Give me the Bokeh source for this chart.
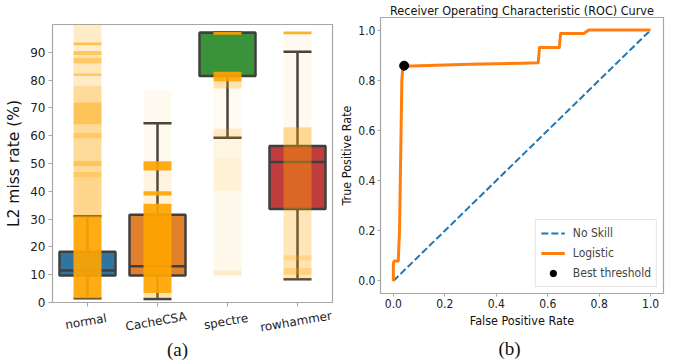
from bokeh.plotting import figure
from bokeh.models import (ColumnDataSource, FactorRange, Range1d, Title,
                          FixedTicker)
from bokeh.core.properties import value
from bokeh.layouts import row, column
from bokeh.transform import dodge
from bokeh.embed import file_html
from bokeh.resources import INLINE

# ---------------- data: panel (a) ----------------
categories = ["normal", "CacheCSA", "spectre", "rowhammer"]
q1 = [9.7, 9.7, 81.5, 33.6]
median = [11.5, 13.0, 97.0, 50.5]
q3 = [18.3, 31.6, 97.0, 56.3]
whisker_low = [1.5, 1.3, 59.3, 8.4]
whisker_high = [31.0, 64.5, 97.0, 90.2]
box_colors = ["#3274a1", "#e1812c", "#3a923a", "#c03d3e"]
y_ticks = [0, 10, 20, 30, 40, 50, 60, 70, 80, 90]

# strip-plot point density, read as horizontal bands per category
strip_cat = (["normal"] * 19 + ["CacheCSA"] * 7 + ["spectre"] * 9 +
             ["rowhammer"] * 9)
strip_lo = [1.5, 31.0, 45.0, 47.0, 49.0, 51.0, 59.0, 61.0, 64.0, 72.0,
            78.0, 81.5, 82.5, 86.0, 88.0, 89.0, 90.5, 92.5, 93.5,
            1.5, 3.4, 35.5, 38.5, 40.0, 47.5, 50.8,
            9.7, 11.5, 40.0, 52.0, 59.0, 62.5, 77.0, 79.5, 96.3,
            8.3, 10.0, 12.5, 15.0, 17.0, 33.5, 56.5, 63.0, 96.5]
strip_hi = [31.0, 45.0, 47.0, 49.0, 51.0, 59.0, 61.0, 64.0, 72.0, 78.0,
            81.5, 82.5, 86.0, 88.0, 89.0, 90.5, 92.5, 93.5, 100.0,
            3.4, 35.5, 38.5, 40.0, 47.5, 50.8, 76.5,
            11.5, 40.0, 52.0, 59.0, 62.5, 77.0, 79.5, 83.0, 97.3,
            10.0, 12.5, 15.0, 17.0, 33.5, 56.5, 63.0, 96.5, 97.5]
strip_density = [0.92, 0.45, 0.60, 0.40, 0.65, 0.40, 0.60, 0.40, 0.65, 0.40,
                 0.22, 0.60, 0.27, 0.60, 0.30, 0.62, 0.20, 0.70, 0.22,
                 0.30, 0.92, 0.15, 0.92, 0.12, 0.92, 0.06,
                 0.22, 0.07, 0.16, 0.11, 0.24, 0.05, 0.32, 0.90, 0.90,
                 0.28, 0.50, 0.30, 0.45, 0.28, 0.42, 0.42, 0.06, 0.85]

# ---------------- data: panel (b) ----------------
fpr = [0.0, 0.0, 0.004, 0.019, 0.024, 0.027, 0.030, 0.033, 0.036, 0.040,
       0.045, 0.10, 0.20, 0.30, 0.40, 0.50, 0.563, 0.568, 0.645, 0.650,
       0.740, 0.760, 0.85, 1.0]
tpr = [0.0, 0.07, 0.08, 0.08, 0.20, 0.40, 0.60, 0.80, 0.84, 0.852,
       0.856, 0.858, 0.861, 0.864, 0.866, 0.868, 0.870, 0.930, 0.930, 0.986,
       0.986, 1.0, 1.0, 1.0]
no_skill_x = [0.0, 1.0]
no_skill_y = [0.0, 1.0]
best_fpr = [0.042]
best_tpr = [0.858]
roc_ticks = [0.0, 0.2, 0.4, 0.6, 0.8, 1.0]
roc_tick_labels = ["0.0", "0.2", "0.4", "0.6", "0.8", "1.0"]

LFONT = "DejaVu Sans"
RFONT = "DejaVu Sans Condensed"
SERIF = "Liberation Serif"
FRAME = "#a6a6a6"
EDGE = "#3f3f3f"

# ================= panel (a): plot =================
p1 = figure(x_range=FactorRange(*categories), y_range=Range1d(0, 100),
            width=336, height=309, output_backend="svg",
            toolbar_location=None, min_border_left=52, min_border_right=4,
            min_border_top=24, min_border_bottom=7)
p1.xgrid.visible = False
p1.ygrid.visible = False
p1.outline_line_color = FRAME
p1.outline_line_width = 1.2

box_src = ColumnDataSource(dict(cat=categories, q1=q1, med=median, q3=q3,
                                wlo=whisker_low, whi=whisker_high,
                                color=box_colors))
p1.vbar(x="cat", width=0.8, bottom="q1", top="q3", source=box_src,
        fill_color="color", line_color=EDGE, line_width=2.5)
p1.segment(x0="cat", y0="q3", x1="cat", y1="whi", source=box_src,
           line_color=EDGE, line_width=2.5)
p1.segment(x0="cat", y0="q1", x1="cat", y1="wlo", source=box_src,
           line_color=EDGE, line_width=2.5)
for col in ("wlo", "whi"):
    p1.segment(x0=dodge("cat", -0.2, range=p1.x_range), y0=col,
               x1=dodge("cat", 0.2, range=p1.x_range), y1=col,
               source=box_src, line_color=EDGE, line_width=2.5)
p1.segment(x0=dodge("cat", -0.4, range=p1.x_range), y0="med",
           x1=dodge("cat", 0.4, range=p1.x_range), y1="med",
           source=box_src, line_color=EDGE, line_width=2.5)

strip_src = ColumnDataSource(dict(cat=strip_cat, lo=strip_lo, hi=strip_hi,
                                  dens=strip_density))
p1.quad(left=dodge("cat", -0.2, range=p1.x_range),
        right=dodge("cat", 0.2, range=p1.x_range),
        bottom="lo", top="hi", source=strip_src,
        fill_color="orange", fill_alpha="dens", line_color=None)

p1.yaxis.ticker = FixedTicker(ticks=y_ticks)
p1.yaxis.axis_label = "L2 miss rate (%)"
p1.yaxis.axis_label_text_font = LFONT
p1.yaxis.axis_label_text_font_size = "15.5px"
p1.yaxis.axis_label_text_font_style = "normal"
p1.yaxis.axis_label_text_color = "#111111"
p1.yaxis.axis_label_standoff = 4
for ax in (p1.xaxis, p1.yaxis):
    ax.axis_line_color = None
    ax.major_tick_in = 0
    ax.major_tick_out = 4
    ax.major_tick_line_color = FRAME
    ax.minor_tick_line_color = None
    ax.major_label_text_font = LFONT
    ax.major_label_text_font_size = "12px"
    ax.major_label_text_color = "#222222"
    ax.major_label_standoff = 3
# x axis keeps only its tick marks; the names are drawn centred below
p1.xaxis.major_label_text_color = None
p1.xaxis.major_label_standoff = 0

# ================= panel (a): category labels + caption =================
lab = figure(x_range=p1.x_range, y_range=Range1d(0, 55),
             width=336, height=55, output_backend="svg",
             toolbar_location=None, min_border_left=52, min_border_right=4,
             min_border_top=0, min_border_bottom=0,
             x_axis_location=None, y_axis_location=None)
lab.xgrid.visible = False
lab.ygrid.visible = False
lab.outline_line_color = None
cat_src = ColumnDataSource(dict(cat=categories))
lab.text(x="cat", y=43, text="cat", source=cat_src, angle=0.17,
         x_offset=-1.5, text_align="center", text_baseline="middle",
         text_font=value(LFONT), text_font_size="12px",
         text_color="#222222")
lab.text(x=["CacheCSA"], y=[15], text=["(a)"], x_offset=20,
         text_align="center", text_baseline="middle",
         text_font=value(SERIF), text_font_size="19px", text_color="#111111")

# ================= panel (b) =================
p2 = figure(x_range=Range1d(-0.05, 1.05), y_range=Range1d(-0.05, 1.05),
            width=337, height=364, output_backend="svg",
            toolbar_location=None, min_border_left=42, min_border_right=10,
            min_border_top=0, min_border_bottom=71,
            title="Receiver Operating Characteristic (ROC) Curve")
p2.title.align = "center"
p2.title.text_font = RFONT
p2.title.text_font_size = "12.5px"
p2.title.text_font_style = "normal"
p2.title.text_color = "#111111"
p2.title.standoff = 0
p2.title.text_line_height = 1.0
p2.xgrid.visible = False
p2.ygrid.visible = False
p2.outline_line_color = FRAME
p2.outline_line_width = 1.2

p2.line(no_skill_x, no_skill_y, line_color="#1f77b4", line_width=2,
        line_dash="7 3", legend_label="No Skill")
p2.line(fpr, tpr, line_color="#ff7f0e", line_width=3, line_join="round",
        legend_label="Logistic")
p2.scatter(best_fpr, best_tpr, size=9, color="black",
           legend_label="Best threshold")

for ax in (p2.xaxis, p2.yaxis):
    ax.ticker = FixedTicker(ticks=roc_ticks)
    ax.major_label_overrides = dict(zip(roc_ticks, roc_tick_labels))
    ax.axis_line_color = None
    ax.major_tick_in = 0
    ax.major_tick_out = 3
    ax.major_tick_line_color = FRAME
    ax.minor_tick_line_color = None
    ax.major_label_text_font = RFONT
    ax.major_label_text_font_size = "12px"
    ax.major_label_text_color = "#222222"
    ax.major_label_standoff = 2
    ax.axis_label_text_font = RFONT
    ax.axis_label_text_font_size = "12.5px"
    ax.axis_label_text_font_style = "normal"
    ax.axis_label_text_color = "#111111"
    ax.axis_label_standoff = 2
p2.xaxis.axis_label = "False Positive Rate"
p2.yaxis.axis_label = "True Positive Rate"
p2.yaxis.axis_label_standoff = 1

lg = p2.legend[0]
lg.location = "bottom_right"
lg.margin = 6
lg.padding = 5
lg.spacing = 4
lg.glyph_width = 24
lg.glyph_height = 16
lg.label_height = 16
lg.label_standoff = 8
lg.label_text_font = RFONT
lg.label_text_font_size = "12px"
lg.border_line_color = "#cccccc"
lg.background_fill_alpha = 0.85

p2.add_layout(Title(text="(b)", align="left", offset=118, text_font=SERIF,
                    text_font_size="19px", text_font_style="normal",
                    text_color="#111111"), "below")

layout = row(column(p1, lab), p2)
open("out.html", "w").write(file_html(layout, INLINE))
